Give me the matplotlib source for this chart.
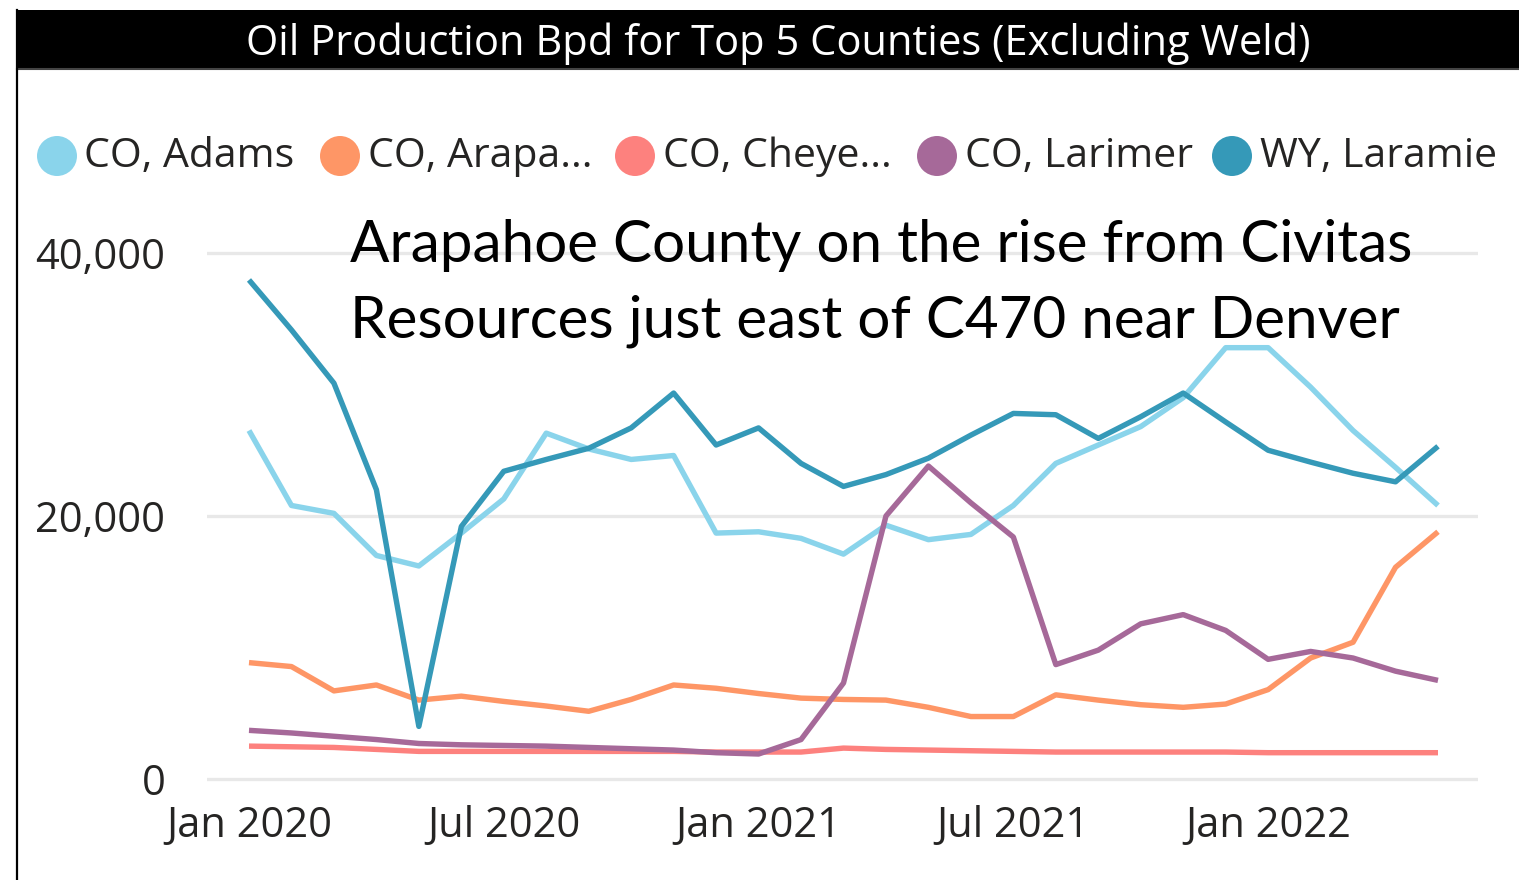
import matplotlib
matplotlib.use("Agg")
import matplotlib.pyplot as plt
from matplotlib.patches import Rectangle, Ellipse
from matplotlib.lines import Line2D

# ---------------- data ----------------
months = ["Jan 2020", "Feb 2020", "Mar 2020", "Apr 2020", "May 2020", "Jun 2020",
          "Jul 2020", "Aug 2020", "Sep 2020", "Oct 2020", "Nov 2020", "Dec 2020",
          "Jan 2021", "Feb 2021", "Mar 2021", "Apr 2021", "May 2021", "Jun 2021",
          "Jul 2021", "Aug 2021", "Sep 2021", "Oct 2021", "Nov 2021", "Dec 2021",
          "Jan 2022", "Feb 2022", "Mar 2022", "Apr 2022", "May 2022"]
tick_labels = ["Jan 2020", "Jul 2020", "Jan 2021", "Jul 2021", "Jan 2022"]

adams = [26500, 20800, 20200, 17000, 16200, 18700, 21300, 26300, 25100, 24300,
         24600, 18700, 18800, 18300, 17100, 19300, 18200, 18600, 20800, 24000,
         25400, 26800, 29000, 32800, 32800, 29800, 26500, 23700, 20800]
arapahoe = [8850, 8550, 6700, 7150, 6000, 6300, 5900, 5550, 5150, 6050,
            7150, 6900, 6500, 6150, 6050, 6000, 5450, 4750, 4750, 6400,
            6000, 5650, 5450, 5700, 6800, 9200, 10400, 16100, 18800]
cheyenne = [2500, 2450, 2400, 2250, 2100, 2100, 2100, 2100, 2100, 2100,
            2100, 2050, 2050, 2050, 2350, 2250, 2200, 2150, 2100, 2050,
            2050, 2050, 2050, 2050, 2000, 2000, 2000, 2000, 2000]
larimer = [3700, 3500, 3250, 3000, 2700, 2600, 2550, 2500, 2400, 2300,
           2200, 2000, 1900, 3000, 7300, 20000, 23800, 21000, 18400, 8700,
           9800, 11800, 12500, 11300, 9100, 9700, 9200, 8200, 7500]
laramie = [37950, 34150, 30100, 22000, 4000, 19200, 23400, 24300, 25150, 26700,
           29350, 25400, 26700, 24000, 22250, 23150, 24400, 26150, 27800, 27700,
           25900, 27550, 29350, 27150, 25000, 24100, 23250, 22600, 25300]

series_names = ["CO, Adams", "CO, Arapa...", "CO, Cheye...", "CO, Larimer", "WY, Laramie"]
series_values = [adams, arapahoe, cheyenne, larimer, laramie]
series_colors = ["#8AD4EB", "#FE9666", "#FD817E", "#A66999", "#3599B8"]
y_ticks = [0, 20000, 40000]

title = "Oil Production Bpd for Top 5 Counties (Excluding Weld)"
note_lines = ["Arapahoe County on the rise from Civitas",
              "Resources just east of C470 near Denver"]

# ---------------- figure ----------------
W, H = 1519, 880
fig = plt.figure(figsize=(W / 100, H / 100), dpi=100)
fig.patch.set_facecolor("white")

def fx(px):
    return px / W

def fy(py):
    return 1 - py / H

UI_FONT = ["Open Sans", "DejaVu Sans"]
NOTE_FONT = ["Lato", "DejaVu Sans"]
TXT = "#252423"

# plot area
ax_left, ax_right, ax_top, ax_bot = 207, 1478, 240, 790
ax = fig.add_axes([fx(ax_left), fy(ax_bot), fx(ax_right - ax_left), (ax_bot - ax_top) / H])
x = list(range(len(months)))
for vals, col in zip(series_values, series_colors):
    ax.plot(x, vals, color=col, lw=3.9, solid_joinstyle="round", solid_capstyle="butt")

px_per_month = (1438 - 249) / 28
ax.set_xlim(-(249 - ax_left) / px_per_month, 28 + (ax_right - 1438) / px_per_month)
val_per_px = 40000 / (779 - 253)
ax.set_ylim(-(ax_bot - 779) * val_per_px, 40000 + (253 - ax_top) * val_per_px)

for s in ax.spines.values():
    s.set_visible(False)
ax.set_yticks(y_ticks)
ax.set_yticklabels([f"{v:,}" for v in y_ticks])
ax.set_xticks([months.index(t) for t in tick_labels])
ax.set_xticklabels(tick_labels)
ax.tick_params(axis="both", length=0, labelsize=30, colors=TXT)
ax.tick_params(axis="y", pad=30)
ax.tick_params(axis="x", pad=11)
for lab in ax.get_xticklabels() + ax.get_yticklabels():
    lab.set_fontfamily(UI_FONT)
ax.grid(axis="y", color="#E8E8E8", lw=2.4)
ax.set_axisbelow(True)

# annotation
for line, base_y in zip(note_lines, [262, 338]):
    fig.text(fx(350), fy(base_y), line, fontsize=42, family=NOTE_FONT,
             color="black", va="baseline", ha="left", zorder=10)

# title bar
fig.add_artist(Rectangle((fx(17), fy(68)), fx(W - 17), 58 / H, transform=fig.transFigure,
                         facecolor="black", edgecolor="none"))
fig.add_artist(Line2D([fx(17), 1], [fy(69), fy(69)], transform=fig.transFigure,
                      color="#444444", lw=1.5))
fig.add_artist(Line2D([fx(17), fx(17)], [0, fy(10)], transform=fig.transFigure,
                      color="black", lw=1.6))
fig.text(fx(778), fy(44), title, color="white", fontsize=30, family=UI_FONT,
         ha="center", va="center")

# legend
legend_circle_x = [57, 340, 635, 937, 1232]
legend_text_x = [84, 368, 663, 965, 1260]
for name, col, cx, tx in zip(series_names, series_colors, legend_circle_x, legend_text_x):
    fig.add_artist(Ellipse((fx(cx), fy(156)), 40 / W, 40 / H, transform=fig.transFigure,
                           facecolor=col, edgecolor="none"))
    fig.text(fx(tx), fy(157), name, color=TXT, fontsize=29.5, family=UI_FONT,
             ha="left", va="center")

fig.savefig("out.png", dpi=100)
